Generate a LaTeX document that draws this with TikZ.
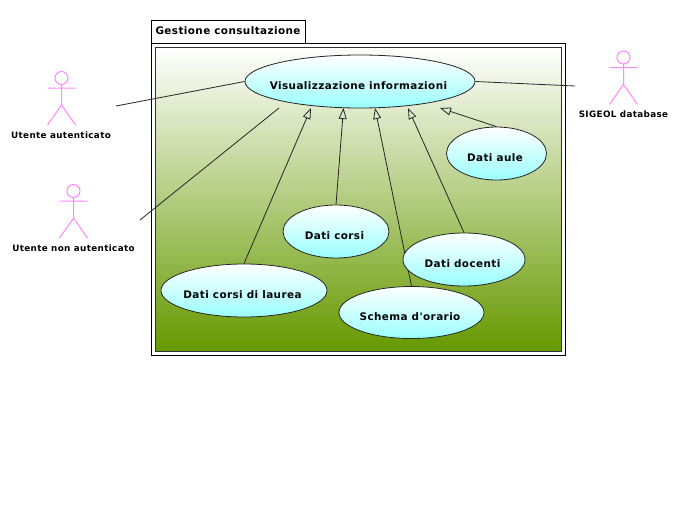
\documentclass[tikz,border=0pt]{standalone}
\usepackage{fontspec}
\newfontfamily\dgfont[LetterSpace=4]{DejaVu Sans}
\usetikzlibrary{shapes.geometric,arrows.meta}
\pgfdeclarelayer{back}
\pgfdeclarelayer{conn}
\pgfsetlayers{back,conn,main}
\definecolor{actorpink}{HTML}{FF88FF}
\definecolor{usecyan}{HTML}{99FFFF}
\definecolor{pkggreen}{HTML}{669900}
\newcommand{\lbl}[1]{\makebox[0pt]{#1\hspace{3pt}}}
\tikzset{
  x=1pt,y=-1pt,
  usecase/.style={ellipse,draw=black!85,line width=0.8pt,inner sep=0pt,top color=white,bottom color=usecyan,
    font=\dgfont\bfseries\fontsize{10.4}{12}\selectfont,text height=15pt,text depth=0pt},
  pkgbox/.style={draw=black,line width=1pt,inner sep=0pt,outer sep=0pt,anchor=north west},
  actorname/.style={font=\dgfont\bfseries\fontsize{8.8}{10}\selectfont,inner sep=0pt,text=black},
  assoc/.style={draw=black!85,line width=0.8pt},
  gen/.style={draw=black!85,line width=0.8pt,-{Triangle[open,length=11pt,width=8pt]}},
  actor/.pic={
    \draw[actorpink,line width=1pt] (0,0) circle (6.5)
      (0,6.5) -- (0,27) (-14,10) -- (14,10) (-14,47) -- (0,27) -- (14,47);
  }
}
\begin{document}
\begin{tikzpicture}
\useasboundingbox (0,0) rectangle (689,525);
\begin{pgfonlayer}{back}
  \fill[white] (0,0) rectangle (689,525);
  \node[pkgbox,fill=white,minimum width=154.5pt,minimum height=23pt] (tab) at (151,20) {};
  \node[pkgbox,fill=white,minimum width=414.5pt,minimum height=312.5pt] (pkg) at (151,43) {};
  \node[pkgbox,line width=0.8pt,draw=black!80,top color=white,bottom color=pkggreen,minimum width=406pt,minimum height=304pt] (inner) at (155,47) {};
\end{pgfonlayer}
\node[font=\dgfont\fontsize{10.4}{12}\selectfont\bfseries,inner sep=0pt] (tabtext) at (228,31) {Gestione consultazione};

\node[usecase,minimum width=230pt,minimum height=53pt] (vis) at (360,81.5) {\lbl{Visualizzazione informazioni}};
\node[usecase,minimum width=100pt,minimum height=53pt] (aule) at (496.5,153.5) {\lbl{Dati aule}};
\node[usecase,minimum width=106pt,minimum height=53pt] (corsi) at (336,231.5) {\lbl{Dati corsi}};
\node[usecase,minimum width=122pt,minimum height=53pt] (docenti) at (464,259.5) {\lbl{Dati docenti}};
\node[usecase,minimum width=166pt,minimum height=53pt] (laurea) at (244,290.5) {\lbl{Dati corsi di laurea}};
\node[usecase,minimum width=145pt,minimum height=52pt] (schema) at (411.5,312.5) {\lbl{Schema d'orario}};

\pic at (61.5,78) {actor};
\pic at (73.5,191) {actor};
\pic at (623.5,57.5) {actor};
\node[actorname] (a1) at (61,135) {Utente autenticato};
\node[actorname] (a2) at (73.5,248) {Utente non autenticato};
\node[actorname] (a3) at (623.5,114) {SIGEOL database};

\coordinate (e1) at (116,106);
\coordinate (e2) at (140,220);
\coordinate (e2b) at (279,108);
\coordinate (e3) at (575,86);
\coordinate (tl) at (311,108);
\coordinate (tc) at (343.5,108);
\coordinate (ts) at (375,108);
\coordinate (td) at (408,108);
\coordinate (ta) at (440,108);
\begin{pgfonlayer}{conn}
  \draw[assoc] (e1) -- (vis.west);
  \draw[assoc] (e2) -- (e2b);
  \draw[assoc] (vis.east) -- (e3);
  \draw[gen] (laurea.north) -- (tl);
  \draw[gen] (corsi.north) -- (tc);
  \draw[gen] (schema.north) -- (ts);
  \draw[gen] (docenti.north) -- (td);
  \draw[gen] (aule.north) -- (ta);
\end{pgfonlayer}
\end{tikzpicture}
\end{document}
